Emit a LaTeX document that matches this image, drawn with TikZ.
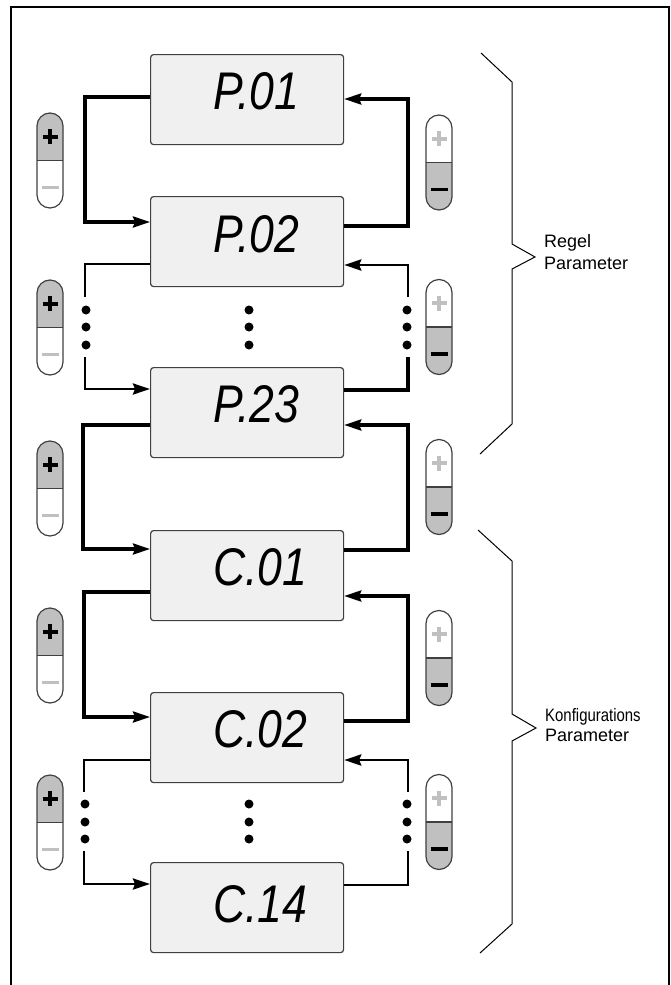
\documentclass[tikz,border=0pt]{standalone}
\usepackage{fontspec}
\usepackage{graphicx}
\setmainfont{Liberation Sans}
\usetikzlibrary{arrows.meta}
\definecolor{btngray}{HTML}{C0C0C0}
\definecolor{boxfill}{HTML}{F0F0F0}
\definecolor{edgegray}{HTML}{404040}
\begin{document}
\begin{tikzpicture}[x=1pt,y=-1pt,
  lcdbox/.style={draw=edgegray, fill=boxfill, line width=1.2pt, rounded corners=3pt,
    minimum width=193pt, minimum height=90pt, inner sep=0pt, anchor=north west},
  lcdtext/.style={anchor=base west, inner sep=0pt, font=\fontsize{53}{53}\selectfont\itshape},
  lbl/.style={anchor=base west, inner sep=0pt, font=\fontsize{18}{20}\selectfont},
  wire/.style={line width=3.2pt},
  thinwire/.style={line width=2.8pt},
  conn/.style={wire, -{Stealth[length=17pt,width=11pt,inset=2pt]}},
  thinconn/.style={thinwire, -{Stealth[length=17pt,width=11pt,inset=2pt]}},
  dotfill/.style={fill=black},
  bracket/.style={line width=1pt, black},
  pbtn/.pic={
    \begin{scope}
      \clip (-15,-50) rectangle (15,0);
      \fill[btngray, rounded corners=13pt] (-13,-47.5) rectangle (13,47.5);
    \end{scope}
    \draw[edgegray, line width=1.2pt, rounded corners=13pt] (-13,-47.5) rectangle (13,47.5);
    \draw[edgegray, line width=1.2pt] (-13,0) -- (13,0);
    \draw[black, line width=4pt] (-7.5,-24) -- (7.5,-24) (0,-31.5) -- (0,-16.5);
    \draw[btngray, line width=3.5pt] (-8.5,27) -- (8.5,27);
  },
  mbtn/.pic={
    \begin{scope}
      \clip (-15,0) rectangle (15,50);
      \fill[btngray, rounded corners=13pt] (-13,-47.5) rectangle (13,47.5);
    \end{scope}
    \draw[edgegray, line width=1.2pt, rounded corners=13pt] (-13,-47.5) rectangle (13,47.5);
    \draw[edgegray, line width=1.2pt] (-13,0) -- (13,0);
    \draw[btngray, line width=4pt] (-7.5,-24) -- (7.5,-24) (0,-31.5) -- (0,-16.5);
    \draw[black, line width=3.5pt] (-8.5,27) -- (8.5,27);
  }
]
\useasboundingbox (0,0) rectangle (671,985);

% frame
\draw[line width=2pt] (10.7,995) -- (10.7,6.7) -- (669,6.7) -- (669,995);

% display boxes
\node[lcdbox] (p01) at (150,54) {};
\node[lcdbox] (p02) at (150,196) {};
\node[lcdbox] (p23) at (150,367) {};
\node[lcdbox] (c01) at (150,530) {};
\node[lcdbox] (c02) at (150,692) {};
\node[lcdbox] (c14) at (150,862) {};

\node[lcdtext] (p01t) at (213,109) {\scalebox{0.84}[1]{P.01}};
\node[lcdtext] (p02t) at (213,252) {\scalebox{0.84}[1]{P.02}};
\node[lcdtext] (p23t) at (213,422) {\scalebox{0.84}[1]{P.23}};
\node[lcdtext] (c01t) at (213,585) {\scalebox{0.84}[1]{C.01}};
\node[lcdtext] (c02t) at (213,747) {\scalebox{0.84}[1]{C.02}};
\node[lcdtext] (c14t) at (213,922) {\scalebox{0.84}[1]{C.14}};

% buttons
\pic at (50,160.5) {pbtn};
\pic at (50,327.5) {pbtn};
\pic at (50,488.5) {pbtn};
\pic at (50,655.5) {pbtn};
\pic at (50,822.5) {pbtn};
\pic at (439,162.5) {mbtn};
\pic at (439,327) {mbtn};
\pic at (439,487) {mbtn};
\pic at (439,658) {mbtn};
\pic at (439,822) {mbtn};

% P.01 <-> P.02
\draw[conn] (p01.west |- 0,97) -| (85,222) -- (p02.west |- 0,222);
\draw[conn] (p02.east |- 0,226) -| (408,99) -- (p01.east |- 0,99);

% P.02 <-> P.23 (dotted)
\coordinate (gl1a) at (85,297);
\coordinate (gl1b) at (85,357);
\coordinate (gr1a) at (408,297);
\coordinate (gr1b) at (408,357);
\draw[thinwire] (p02.west |- 0,264) -| (gl1a);
\draw[thinconn] (gl1b) |- (p23.west |- 0,389);
\draw[wire] (p23.east |- 0,390) -| (gr1b);
\draw[thinconn] (gr1a) |- (p02.east |- 0,265);
\foreach \yy in {310,327,345} {
  \fill[dotfill] (86,\yy) circle (4.5pt);
  \fill[dotfill] (249,\yy) circle (4.5pt);
  \fill[dotfill] (407,\yy) circle (4.5pt);
}

% P.23 <-> C.01
\draw[conn] (p23.west |- 0,425) -| (83,549) -- (c01.west |- 0,549);
\draw[conn] (c01.east |- 0,550) -| (408,425) -- (p23.east |- 0,425);

% C.01 <-> C.02
\draw[conn] (c01.west |- 0,592) -| (84,717) -- (c02.west |- 0,717);
\draw[conn] (c02.east |- 0,721) -| (408,596) -- (c01.east |- 0,596);

% C.02 <-> C.14 (dotted)
\coordinate (gl2a) at (84,792);
\coordinate (gl2b) at (84,851);
\coordinate (gr2a) at (408,792);
\coordinate (gr2b) at (408,851);
\draw[thinwire] (c02.west |- 0,760) -| (gl2a);
\draw[thinconn] (gl2b) |- (c14.west |- 0,884);
\draw[thinwire] (c14.east |- 0,885) -| (gr2b);
\draw[thinconn] (gr2a) |- (c02.east |- 0,760);
\foreach \yy in {804,822,839} {
  \fill[dotfill] (85,\yy) circle (4.5pt);
  \fill[dotfill] (249,\yy) circle (4.5pt);
  \fill[dotfill] (407,\yy) circle (4.5pt);
}

% braces
\draw[bracket] (481,53) -- (512,82) -- (512,244) -- (535,257) -- (512,269) -- (512,424) -- (480,454);
\draw[bracket] (478,530) -- (512,561) -- (512,714) -- (536,728) -- (512,741) -- (512,924) -- (480,953);

% labels
\node[lbl] (regel) at (544,247) {Regel};
\node[lbl] (regelp) at (544,269) {Parameter};
\node[lbl] (konf) at (545,721) {\scalebox{0.83}[1]{Konfigurations}};
\node[lbl] (konfp) at (545,741) {Parameter};
\end{tikzpicture}
\end{document}
